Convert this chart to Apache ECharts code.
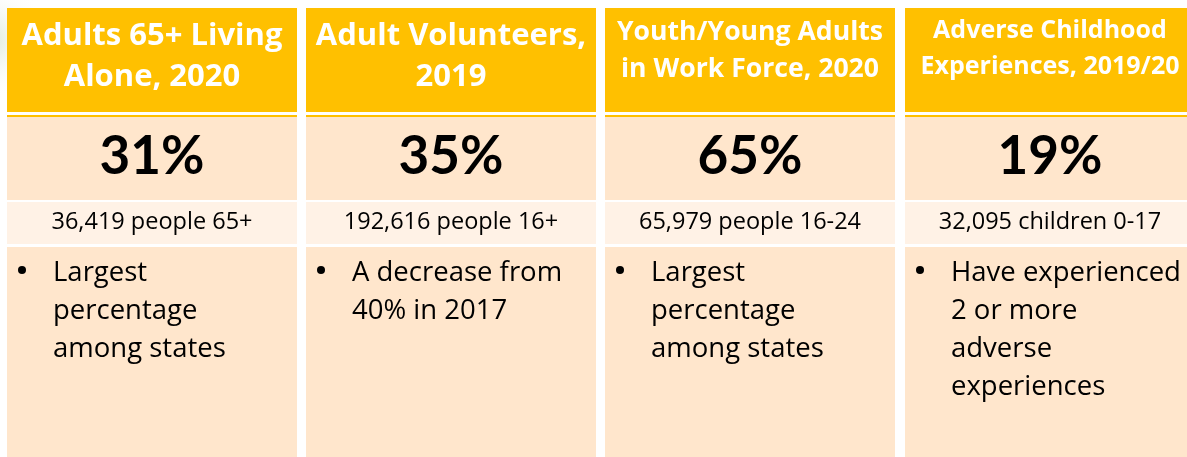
<!DOCTYPE html>
<html><head><meta charset="utf-8">
<script src="https://cdn.jsdelivr.net/npm/echarts@6/dist/echarts.min.js"></script>
<style>html,body{margin:0;padding:0;background:#fff}#c{width:1187px;height:457px}</style>
</head><body><div id="c"></div>
<script>
// Data
var titles = ["Adults 65+ Living\nAlone, 2020", "Adult Volunteers,\n2019", "Youth/Young Adults\nin Work Force, 2020", "Adverse Childhood\nExperiences, 2019/20"];
var percents = [31, 35, 65, 19];
var counts = ["36,419 people 65+", "192,616 people 16+", "65,979 people 16-24", "32,095 children 0-17"];
var bullets = ["Largest\npercentage\namong states", "A decrease from\n40% in 2017", "Largest\npercentage\namong states", "Have experienced\n2 or more\nadverse\nexperiences"];
var titleSizes = [31, 31, 26.6, 25];

var FONT = '"Open Sans", Lato, sans-serif';
var PFONT = 'Lato, "Open Sans", sans-serif';
var cardX = [7, 306, 605, 905];
var cardW = [290, 290, 290, 290];
var titleY = [57, 57, 51, 49];
var titleLH = [41, 41, 37, 36];
var els = [];
els.push({type:'circle', shape:{cx:-10, cy:40, r:60}, style:{fill:{type:'radial',x:0.5,y:0.5,r:0.5,colorStops:[{offset:0,color:'rgba(200,220,190,0.6)'},{offset:1,color:'rgba(255,255,255,0)'}]}}, z:0});
for (var i = 0; i < titles.length; i++) {
  var x = cardX[i], w = cardW[i];
  els.push({type:'rect', shape:{x:x, y:8, width:w, height:104}, style:{fill:'#FFC000'}, z:1});
  els.push({type:'rect', shape:{x:x, y:115, width:w, height:2}, style:{fill:'#FFC000'}, z:1});
  els.push({type:'rect', shape:{x:x, y:117, width:w, height:83}, style:{fill:'#FFE6CC'}, z:1});
  els.push({type:'rect', shape:{x:x, y:202, width:w, height:42}, style:{fill:'#FFF2E6'}, z:1});
  els.push({type:'rect', shape:{x:x, y:247, width:w, height:210}, style:{fill:'#FFE6CC'}, z:1});
  els.push({type:'text', x:x + w/2, y:titleY[i], z:2, style:{text:titles[i], fill:'#fff', font:'bold ' + titleSizes[i] + 'px ' + FONT, align:'center', verticalAlign:'middle', lineHeight:titleLH[i]}});
  els.push({type:'text', x:x + w/2, y:157, z:2, style:{text:percents[i] + '%', fill:'#000', font:'bold 53px ' + PFONT, align:'center', verticalAlign:'middle'}});
  els.push({type:'text', x:x + w/2, y:222, z:2, style:{text:counts[i], fill:'#000', font:'23.5px ' + FONT, align:'center', verticalAlign:'middle'}});
  els.push({type:'circle', shape:{cx:x + 15, cy:270, r:4}, style:{fill:'#000'}, z:2});
  els.push({type:'text', x:x + 46, y:254, z:2, style:{text:bullets[i], fill:'#000', font:'27.5px ' + FONT, align:'left', verticalAlign:'top', lineHeight:38}});
}
var chart = echarts.init(document.getElementById('c'), null, {renderer:'canvas'});
chart.setOption({backgroundColor:'#fff', animation:false, graphic:{elements:els}});
</script></body></html>
